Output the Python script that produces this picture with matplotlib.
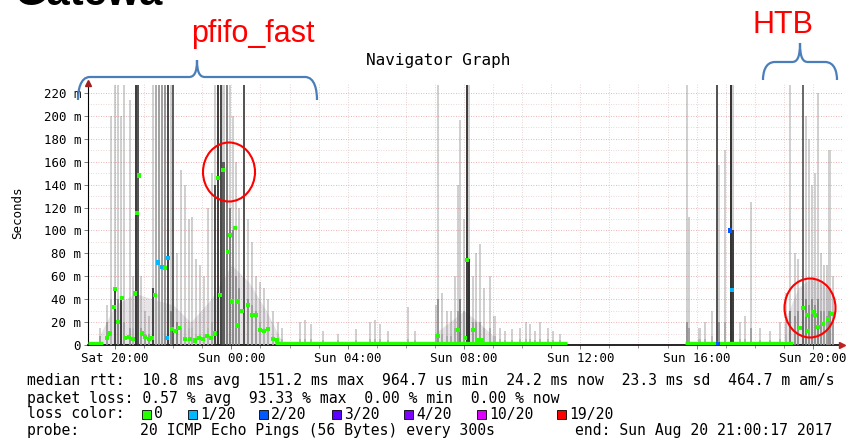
import matplotlib.pyplot as plt
from matplotlib.patches import Ellipse, PathPatch
from matplotlib.path import Path

# time axis: hours after Sat 19:00
tick_hours = [1, 5, 9, 13, 17, 21, 25]
tick_labels = ["Sat 20:00", "Sun 00:00", "Sun 04:00", "Sun 08:00",
               "Sun 12:00", "Sun 16:00", "Sun 20:00"]
y_ticks = [0, 20, 40, 60, 80, 100, 120, 140, 160, 180, 200, 220]
y_labels = ["0"] + [f"{v} m" for v in y_ticks[1:]]

# smoke columns: time, max of smoke (ms), dark core height (ms), darkness
smoke_t = [0.48, 0.72, 0.86, 1.00, 1.10, 1.20, 1.31, 1.51, 1.62, 1.72, 1.79, 1.89,
           2.03, 2.17, 2.30, 2.41, 2.51, 2.61, 2.72, 2.82, 2.92, 2.99, 3.13, 3.27,
           3.40, 3.54, 3.65, 3.78, 3.92, 4.06, 4.20, 4.33, 4.44, 4.54, 4.64, 4.74,
           4.85, 4.95, 5.06, 5.16, 5.26, 5.43, 5.57, 5.71, 5.85, 5.98, 6.12, 6.26,
           6.43, 6.60,
           6.74, 7.36, 7.53, 7.74, 8.15, 8.67, 9.28, 9.77, 9.94, 10.11, 10.39, 11.07,
           11.31, 12.04, 12.10, 12.24, 12.41, 12.55, 12.69, 12.79, 12.86, 13.00,
           13.10, 13.17, 13.31, 13.41, 13.55, 13.69, 13.89, 14.06, 14.24, 14.41,
           14.65, 14.92, 15.13, 15.27, 15.44, 15.61, 15.89, 16.06, 16.30,
           20.67, 20.74, 21.11, 21.29, 21.53, 21.70, 21.77, 21.97, 22.18, 22.25,
           22.49, 22.66, 22.87, 23.18, 23.52, 23.87, 24.07, 24.21, 24.38, 24.49,
           24.66, 24.76, 24.86, 24.97, 25.07, 25.17, 25.28, 25.38, 25.48, 25.58,
           25.69]
smoke_top = [15, 35, 200, 227, 227, 200, 227, 214, 60, 227, 227, 60,
             30, 25, 227, 227, 227, 227, 227, 227, 227, 227, 80, 153,
             140, 110, 112, 75, 70, 60, 120, 150, 227, 227, 227, 227,
             227, 227, 200, 160, 120, 227, 110, 90, 60, 55, 50, 40,
             30, 20,
             15, 20, 22, 18, 12, 10, 14, 20, 22, 18, 12, 33,
             12, 35, 227, 45, 30, 30, 60, 140, 196, 110,
             227, 227, 60, 80, 88, 50, 60, 25, 15, 12,
             14, 15, 20, 18, 12, 20, 15, 12, 10,
             227, 112, 15, 20, 30, 227, 157, 170, 227, 227,
             20, 25, 125, 15, 12, 20, 45, 227, 80, 75,
             227, 200, 180, 140, 150, 220, 80, 70, 70, 170,
             60]
smoke_core = [8, 20, 40, 50, 40, 40, 20, 15, 15, 227, 227, 15,
              10, 10, 50, 227, 227, 227, 227, 227, 30, 227, 20, 15,
              20, 15, 15, 10, 10, 10, 15, 20, 140, 227, 227, 160,
              227, 120, 100, 60, 50, 227, 40, 35, 30, 20, 15, 12,
              8, 5,
              5, 5, 5, 5, 4, 4, 4, 5, 5, 5, 4, 5,
              4, 10, 40, 10, 8, 8, 15, 30, 40, 30,
              227, 75, 20, 20, 20, 15, 15, 8, 5, 4,
              4, 5, 5, 5, 4, 5, 5, 4, 4,
              20, 15, 5, 5, 8, 227, 20, 20, 227, 100,
              5, 5, 15, 4, 4, 5, 10, 30, 25, 30,
              227, 40, 35, 40, 35, 40, 30, 30, 25, 30,
              20]
smoke_dark = [0.4, 0.4, 0.3, 0.8, 0.5, 0.85, 0.4, 0.4, 0.3, 0.85, 0.75, 0.4,
              0.4, 0.4, 0.8, 0.35, 0.4, 0.4, 0.45, 0.8, 0.5, 0.7, 0.5, 0.35,
              0.3, 0.3, 0.3, 0.3, 0.3, 0.3, 0.3, 0.35, 0.8, 0.85, 0.8, 0.7,
              0.55, 0.55, 0.5, 0.45, 0.45, 0.75, 0.45, 0.4, 0.4, 0.35, 0.3, 0.3,
              0.3, 0.25,
              0.3, 0.3, 0.3, 0.3, 0.3, 0.3, 0.3, 0.3, 0.3, 0.3, 0.3, 0.3,
              0.3, 0.35, 0.45, 0.35, 0.35, 0.35, 0.35, 0.4, 0.55, 0.4,
              0.85, 0.9, 0.4, 0.4, 0.4, 0.35, 0.35, 0.3, 0.3, 0.3,
              0.3, 0.3, 0.3, 0.3, 0.3, 0.3, 0.3, 0.3, 0.3,
              0.45, 0.4, 0.3, 0.3, 0.3, 0.75, 0.45, 0.35, 0.9, 0.85,
              0.3, 0.3, 0.4, 0.3, 0.3, 0.3, 0.3, 0.55, 0.45, 0.45,
              0.65, 0.5, 0.45, 0.5, 0.45, 0.5, 0.45, 0.4, 0.4, 0.45,
              0.4]

# low haze under the busy periods (outline)
haze_t = [[0.5, 1.0, 1.7, 2.3, 3.0, 3.6, 4.3, 5.0, 5.6, 6.2, 6.7],
          [12.0, 12.5, 13.0, 13.5, 14.0],
          [24.0, 24.5, 25.0, 25.7]]
haze_v = [[10, 35, 45, 40, 35, 20, 40, 70, 55, 30, 5],
          [10, 20, 30, 20, 8],
          [20, 50, 60, 45]]

# median rtt points and their loss class (0, 1/20, 2/20)
med_t = [0.72, 0.83, 0.96, 1.00, 1.10, 1.24, 1.34, 1.48, 1.62, 1.69, 1.75, 1.82,
         1.93, 2.03, 2.17, 2.27, 2.37, 2.48, 2.61, 2.72, 2.82, 2.79, 2.96, 3.06,
         3.20, 3.40, 3.58, 3.75, 3.89, 4.02, 4.16, 4.30, 4.44, 4.54, 4.61, 4.71,
         4.88, 4.95, 5.12, 5.02, 5.19, 5.23, 5.36, 5.57, 5.71, 5.85, 5.98, 6.12,
         6.26, 6.43, 6.57,
         12.10, 12.79, 13.03, 13.10, 13.31, 13.45, 13.62,
         21.73, 22.15, 22.21, 24.55, 24.66, 24.79, 24.83, 25.00, 25.07, 25.17,
         25.34, 25.52, 25.65]
med_v = [6, 10, 33, 49, 20, 41, 6, 7, 5, 45, 115, 148,
         10, 7, 5, 6, 44, 72, 68, 67, 76, 6, 14, 12,
         15, 5, 5, 4, 6, 5, 8, 6, 10, 146, 44, 153,
         81, 96, 102, 38, 17, 38, 30, 35, 26, 26, 13, 12,
         14, 5, 4,
         8, 13, 6, 74, 13, 4, 4,
         1, 100, 48, 15, 32, 26, 12, 29, 26, 16,
         18, 23, 27]
med_loss = [0] * 17 + [1, 1, 0, 1, 1] + [0] * 29 + [0] * 7 + [2, 2, 1] + [0] * 10

# stretches where the median sits on the floor
base_start = [0.07, 6.50, 20.60]
base_end = [0.60, 16.55, 24.30]

loss_names = ["0", "1/20", "2/20", "3/20", "4/20", "10/20", "19/20"]
loss_colors = ["#26ff00", "#00b8ff", "#0059ff", "#5e00ff", "#7e00ff", "#dd00ff", "#ff0000"]
box_x = [142, 188, 259, 332, 404, 477, 557]

W, H = 858, 441
mono = "DejaVu Sans Mono"
fig = plt.figure(figsize=(W / 100, H / 100), dpi=100)


def fx(x):
    return x / W


def fy(y):
    return 1 - y / H


ax = fig.add_axes([fx(88), fy(345), (842 - 88) / W, (345 - 83) / H])
ax.set_xlim(0.07, 26.0)
ax.set_ylim(0, 228.7)
ax.set_axisbelow(True)

# grid
for h in range(1, 26):
    ax.axvline(h, color="#e2c4c4", lw=0.6, ls=(0, (1, 2)), zorder=0)
for v in range(10, 230, 10):
    col = "#e59a9a" if v % 20 == 0 else "#e8c8c8"
    ax.axhline(v, color=col, lw=0.6, ls=(0, (1, 2)), zorder=0)

# smoke
for ht, hv in zip(haze_t, haze_v):
    ax.fill_between(ht, 0, hv, color="#7a6a80", alpha=0.18, lw=0, zorder=1)
ax.bar(smoke_t, smoke_top, width=0.09, color="0.4", alpha=0.3, lw=0, zorder=2)
ax.bar(smoke_t, smoke_core, width=0.09, color=[str(round(1 - d, 2)) for d in smoke_dark],
       alpha=0.85, lw=0, zorder=3)

# median
ax.hlines([1.5] * len(base_start), base_start, base_end, color=loss_colors[0], lw=2.4, zorder=4)
ax.scatter(med_t, med_v, marker="s", s=9, c=[loss_colors[i] for i in med_loss],
           linewidths=0, zorder=5)

# axes
for s in ["top", "right"]:
    ax.spines[s].set_visible(False)
ax.spines["left"].set_linewidth(0.8)
ax.spines["bottom"].set_linewidth(1.2)
ax.plot([0.07], [228.7], marker="^", color="#a02020", ms=4, clip_on=False, zorder=6)
ax.plot([26.0], [0], marker=">", color="#c02020", ms=4, clip_on=False, zorder=6)

ax.set_xticks(tick_hours)
ax.set_xticklabels(tick_labels, fontfamily=mono, fontsize=9)
ax.set_xticks(range(1, 26), minor=True)
ax.set_yticks(y_ticks)
ax.set_yticklabels(y_labels, fontfamily=mono, fontsize=9)
ax.tick_params(axis="both", length=3, width=0.6, color="0.4", pad=2)
ax.tick_params(axis="x", which="minor", length=2, width=0.6, color="0.5")

fig.text(fx(18), fy(213), "Seconds", rotation=90, fontfamily=mono, fontsize=9,
         ha="center", va="center")
fig.text(fx(438), fy(60), "Navigator Graph", fontfamily=mono, fontsize=11.5,
         ha="center", va="center")

# legend block
fs = 10.6
x0 = fx(27)
fig.text(x0, fy(381), "median rtt:  10.8 ms avg  151.2 ms max  964.7 us min  "
         "24.2 ms now  23.3 ms sd  464.7 m am/s", fontfamily=mono, fontsize=fs, va="center")
fig.text(x0, fy(398), "packet loss: 0.57 % avg  93.33 % max  0.00 % min  0.00 % now",
         fontfamily=mono, fontsize=fs, va="center")
fig.text(x0, fy(414), "loss color:", fontfamily=mono, fontsize=fs, va="center")
for bx, name, col in zip(box_x, loss_names, loss_colors):
    fig.add_artist(plt.Rectangle((fx(bx), fy(419)), 9 / W, 9 / H, transform=fig.transFigure,
                                 facecolor=col, edgecolor="black", lw=0.6))
    fig.text(fx(bx + 12), fy(414), name, fontfamily=mono, fontsize=fs, va="center")
fig.text(x0, fy(431), "probe:", fontfamily=mono, fontsize=fs, va="center")
fig.text(fx(140), fy(431), "20 ICMP Echo Pings (56 Bytes) every 300s",
         fontfamily=mono, fontsize=fs, va="center")
fig.text(fx(832), fy(431), "end: Sun Aug 20 21:00:17 2017", fontfamily=mono,
         fontsize=fs, va="center", ha="right")

# slide annotations
fig.text(fx(14), fy(5), "Gatewa", fontfamily="Liberation Sans", fontweight="bold",
         fontsize=30, va="baseline")
fig.text(fx(253), fy(42), "pfifo_fast", fontfamily="Liberation Sans", fontsize=22,
         color="red", ha="center", va="baseline")
fig.text(fx(783), fy(33), "HTB", fontfamily="Liberation Sans", fontsize=22,
         color="red", ha="center", va="baseline")


def brace(x1, x2, xm, ylow, ybar, ytip):
    pts = [(x1, ylow), (x1, ybar + 0.6 * (ylow - ybar)), (x1 + 2, ybar), (x1 + 12, ybar),
           (xm - 8, ybar),
           (xm - 3, ybar), (xm, ybar - 4), (xm, ytip),
           (xm, ybar - 4), (xm + 3, ybar), (xm + 8, ybar),
           (x2 - 12, ybar),
           (x2 - 2, ybar), (x2, ybar + 0.6 * (ylow - ybar)), (x2, ylow)]
    codes = [Path.MOVETO, Path.CURVE4, Path.CURVE4, Path.CURVE4, Path.LINETO,
             Path.CURVE4, Path.CURVE4, Path.CURVE4, Path.CURVE4, Path.CURVE4, Path.CURVE4,
             Path.LINETO, Path.CURVE4, Path.CURVE4, Path.CURVE4]
    path = Path([(fx(x), fy(y)) for x, y in pts], codes)
    fig.add_artist(PathPatch(path, transform=fig.transFigure, fill=False,
                             edgecolor="#4a7ebb", lw=1.6))


brace(78, 317, 197, 100, 77, 60)
brace(763, 837, 800, 80, 62, 43)

for cx, cy, rw, rh in [(229, 172, 52, 59), (810, 308, 51, 59)]:
    fig.add_artist(Ellipse((fx(cx), fy(cy)), rw / W, rh / H, transform=fig.transFigure,
                           fill=False, edgecolor="red", lw=1.5, zorder=10))

fig.savefig("out.png", dpi=100, facecolor="white")
